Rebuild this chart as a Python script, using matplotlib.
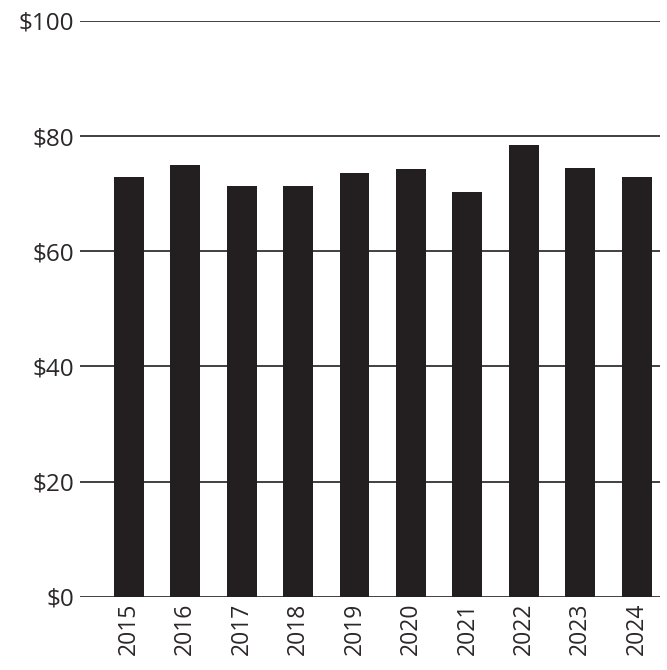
import matplotlib
matplotlib.use("Agg")
import matplotlib.pyplot as plt
import numpy as np

years = ["2015", "2016", "2017", "2018", "2019", "2020", "2021", "2022", "2023", "2024"]
values = [72.9, 74.9, 71.4, 71.4, 73.5, 74.2, 70.2, 78.4, 74.5, 72.9]
y_ticks = [0, 20, 40, 60, 80, 100]

ink = "#231f20"
plt.rcParams['font.family'] = ['Open Sans', 'DejaVu Sans']

fig = plt.figure(figsize=(6.67, 6.70), dpi=100)
ax = fig.add_axes([0.12, 0.109, 0.8695, 0.860])

x = np.arange(len(years))
ax.bar(x, values, width=0.53, color=ink, zorder=3)

ax.set_ylim(0, 100)
ax.set_xlim(-0.86, 9.41)
ax.set_yticks(y_ticks)
ax.set_yticklabels(["$" + str(v) for v in y_ticks])
ax.set_xticks(x)
ax.set_xticklabels(years, rotation=90)

for v in y_ticks:
    ax.axhline(v, color=ink, linewidth=1.2, zorder=1)

for s in ax.spines.values():
    s.set_visible(False)
ax.tick_params(axis='both', length=0, colors="#2b2728")
ax.tick_params(axis='y', pad=4, labelsize=17.5)
ax.tick_params(axis='x', pad=4, labelsize=16.5)

fig.savefig("out.png", dpi=100)
